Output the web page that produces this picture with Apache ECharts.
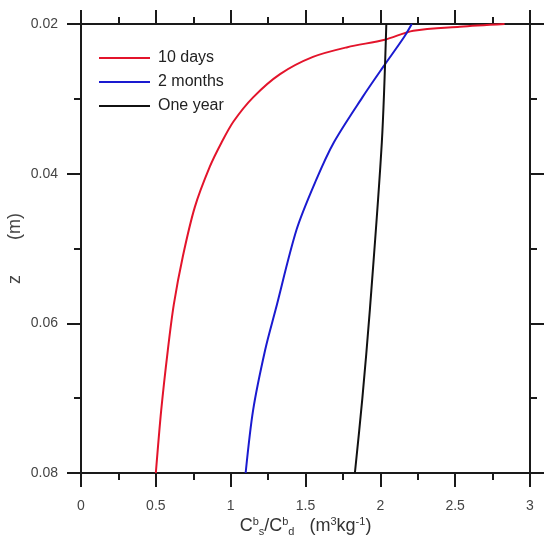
<!DOCTYPE html>
<html>
<head>
<meta charset="utf-8">
<script src="https://cdn.jsdelivr.net/npm/echarts@6/dist/echarts.min.js"></script>
<style>html,body{margin:0;padding:0;background:#fff;overflow:hidden}#c{width:547px;height:536px}</style>
</head>
<body>
<div id="c"></div>
<script>
var seriesNames = ['10 days', '2 months', 'One year'];
var redZ = [0.02, 0.02036, 0.0209, 0.0221, 0.0231, 0.0244, 0.0267, 0.0298, 0.033, 0.0358, 0.0391, 0.0445, 0.0511, 0.0575, 0.0636, 0.0716, 0.08];
var redX = [2.83, 2.53, 2.22, 2.03, 1.78, 1.55, 1.33, 1.15, 1.02, 0.94, 0.86, 0.76, 0.68, 0.62, 0.58, 0.536, 0.50];
var blueZ = [0.02, 0.0217, 0.0257, 0.0298, 0.0358, 0.0409, 0.0475, 0.0582, 0.0636, 0.0716, 0.08];
var blueX = [2.21, 2.16, 2.02, 1.88, 1.69, 1.57, 1.44, 1.30, 1.23, 1.15, 1.10];
var blackZ = [0.02, 0.0358, 0.0582, 0.07, 0.08];
var blackX = [2.04, 2.01, 1.93, 1.88, 1.83];
var xTicks = [0, 0.5, 1, 1.5, 2, 2.5, 3];
var yTicks = [0.02, 0.04, 0.06, 0.08];

function zip(xs, zs) { return xs.map(function (x, i) { return [x, zs[i]]; }); }

var axisColor = '#1a1a1a';
var FONT = 'Liberation Sans, Arial, sans-serif';
function xAx(pos, show) {
  return {
    type: 'value', position: pos, min: xTicks[0], max: xTicks[xTicks.length - 1], interval: 0.5,
    axisLine: { show: true, onZero: false, lineStyle: { color: axisColor, width: 2 } },
    axisTick: { show: true, inside: false, length: 14, lineStyle: { color: axisColor, width: 2 } },
    minorTick: { show: true, splitNumber: 2, length: 7, lineStyle: { color: axisColor, width: 2 } },
    splitLine: { show: false },
    axisLabel: { show: show, margin: 26, fontSize: 14, color: '#444', fontFamily: FONT,
      formatter: function (v) { return String(v); } }
  };
}
function yAx(pos, show) {
  return {
    type: 'value', position: pos, inverse: true, min: yTicks[0], max: yTicks[yTicks.length - 1], interval: 0.02,
    axisLine: { show: true, onZero: false, lineStyle: { color: axisColor, width: 2 } },
    axisTick: { show: true, inside: false, length: 14, lineStyle: { color: axisColor, width: 2 } },
    minorTick: { show: true, splitNumber: 2, length: 7, lineStyle: { color: axisColor, width: 2 } },
    splitLine: { show: false },
    axisLabel: { show: show, margin: 23, fontSize: 14, color: '#444', fontFamily: FONT,
      formatter: function (v) { return v.toFixed(2); } }
  };
}

var xBottom = xAx('bottom', true);
xBottom.name = '{n|C}{sup|b}{sub|s}{n|/C}{sup|b}{sub|d}{n|   (m}{sup|3}{n|kg}{sup|-1}{n|)}';
xBottom.nameLocation = 'middle';
xBottom.nameGap = 42;
xBottom.nameMoveOverlap = false;
xBottom.nameTextStyle = {
  color: '#333', fontFamily: FONT,
  rich: {
    n: { fontSize: 18, color: '#333', fontFamily: FONT, lineHeight: 22, verticalAlign: 'middle' },
    sup: { fontSize: 11, color: '#333', fontFamily: FONT, lineHeight: 22, verticalAlign: 'top', padding: [1, 0, 0, 0] },
    sub: { fontSize: 11, color: '#333', fontFamily: FONT, lineHeight: 22, verticalAlign: 'bottom' }
  }
};
var xTop = xAx('top', false);
var yLeft = yAx('left', true);
yLeft.name = 'z       (m)';
yLeft.nameLocation = 'middle';
yLeft.nameGap = 57;
yLeft.nameMoveOverlap = false;
yLeft.nameRotate = 90;
yLeft.nameTextStyle = { fontSize: 18, color: '#444', fontFamily: FONT };
var yRight = yAx('right', false);

var colors = ['#e3142b', '#1a1ad0', '#111111'];
var chart = echarts.init(document.getElementById('c'), null, { renderer: 'canvas' });
chart.setOption({
  animation: false,
  backgroundColor: '#ffffff',
  grid: { left: 81, top: 24, width: 449, height: 449, containLabel: false, outerBoundsMode: 'none' },
  legend: {
    orient: 'vertical', left: 94, top: 45, itemWidth: 51, itemHeight: 2, itemGap: 8,
    icon: 'rect',
    data: seriesNames,
    textStyle: { fontSize: 16, color: '#222', fontFamily: FONT, padding: [0, 0, 0, 3] }
  },
  xAxis: [xBottom, xTop],
  yAxis: [yLeft, yRight],
  series: [
    { name: seriesNames[0], type: 'line', data: zip(redX, redZ), smooth: 0.3, symbol: 'none', lineStyle: { width: 2, color: colors[0] }, itemStyle: { color: colors[0] } },
    { name: seriesNames[1], type: 'line', data: zip(blueX, blueZ), smooth: 0.3, symbol: 'none', lineStyle: { width: 2, color: colors[1] }, itemStyle: { color: colors[1] } },
    { name: seriesNames[2], type: 'line', data: zip(blackX, blackZ), smooth: 0.3, symbol: 'none', lineStyle: { width: 2, color: colors[2] }, itemStyle: { color: colors[2] } }
  ]
});
</script>
</body>
</html>
